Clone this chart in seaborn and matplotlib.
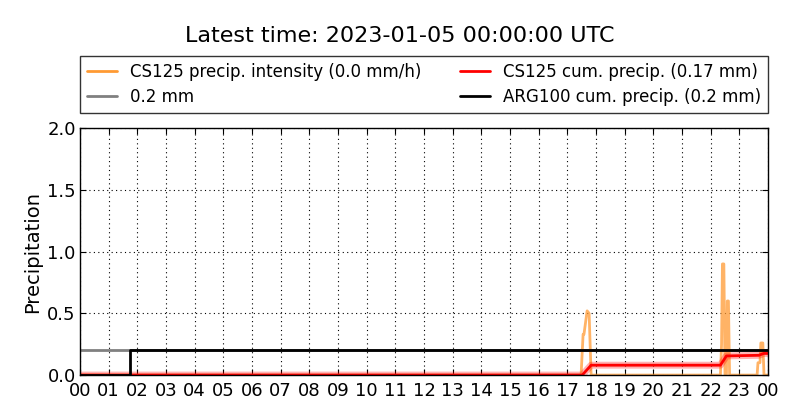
import numpy as np
import pandas as pd
import matplotlib
matplotlib.use("Agg")
import matplotlib.pyplot as plt
import seaborn as sns

# Hours since 00 UTC and values
int_hours = [0, 17.48, 17.55, 17.58, 17.69, 17.76, 17.83, 22.34, 22.38, 22.41, 22.46,
             22.50, 22.55, 22.58, 22.62, 22.66, 23.62, 23.65, 23.72, 23.75, 23.82, 23.86, 24]
int_values = [0, 0, 0.33, 0.33, 0.52, 0.50, 0, 0, 0.25, 0.90, 0.90,
              0, 0, 0.60, 0.60, 0, 0, 0.10, 0.10, 0.26, 0.26, 0, 0]

cum_hours = [0, 17.52, 17.83, 22.34, 22.55, 23.68, 23.85, 24]
cum_values = [0, 0, 0.08, 0.08, 0.155, 0.16, 0.175, 0.175]

arg_hours = [0, 1.75, 1.75, 24]
arg_values = [0, 0, 0.2, 0.2]

ref_hours = [0, 24]
ref_values = [0.2, 0.2]

tick_labels = ["%02d" % h for h in range(24)] + ["00"]

sns.set_style("ticks", {"axes.grid": True, "grid.color": "black", "grid.linestyle": ":",
                        "xtick.direction": "in", "ytick.direction": "in",
                        "axes.edgecolor": "black", "text.color": "black",
                        "axes.labelcolor": "black", "xtick.color": "black",
                        "ytick.color": "black"})
plt.rcParams['font.family'] = ['DejaVu Sans']

fig, ax = plt.subplots(figsize=(8, 4.2), dpi=100)
fig.subplots_adjust(left=0.1, right=0.96, top=0.695, bottom=0.107)

df_int = pd.DataFrame({"h": int_hours, "v": int_values})
df_cum = pd.DataFrame({"h": cum_hours, "v": cum_values})
df_arg = pd.DataFrame({"h": arg_hours, "v": arg_values})
df_ref = pd.DataFrame({"h": ref_hours, "v": ref_values})

sns.lineplot(data=df_ref, x="h", y="v", ax=ax, color="gray", lw=2,
             estimator=None, sort=False, label="0.2 mm")
sns.lineplot(data=df_int, x="h", y="v", ax=ax, color="#ff9a33", alpha=0.75, lw=2,
             estimator=None, sort=False, label="CS125 precip. intensity (0.0 mm/h)")
sns.lineplot(data=df_cum, x="h", y="v", ax=ax, color="red", alpha=0.3, lw=5,
             estimator=None, sort=False, legend=False)
sns.lineplot(data=df_cum, x="h", y="v", ax=ax, color="red", lw=2,
             estimator=None, sort=False, label="CS125 cum. precip. (0.17 mm)")
sns.lineplot(data=df_arg, x="h", y="v", ax=ax, color="black", lw=2,
             estimator=None, sort=False, label="ARG100 cum. precip. (0.2 mm)")

ax.set_xlim(0, 24)
ax.set_ylim(0, 2.0)
ax.set_xticks(range(25))
ax.set_xticklabels(tick_labels)
ax.set_yticks(np.arange(0, 2.01, 0.5))
ax.tick_params(axis="both", labelsize=13, length=4, top=True, right=True, pad=3, colors="black")
ax.tick_params(axis="x", pad=5)
ax.set_xlabel("")
ax.set_ylabel("Precipitation", fontsize=14, color="black")
ax.grid(True, color="black", linestyle=(0, (1, 3)), linewidth=0.8)
for s in ax.spines.values():
    s.set_linewidth(1)
    s.set_color("black")

handles, labels = ax.get_legend_handles_labels()
order = [labels.index(l) for l in ["CS125 precip. intensity (0.0 mm/h)", "0.2 mm",
                                    "CS125 cum. precip. (0.17 mm)", "ARG100 cum. precip. (0.2 mm)"]]
leg = ax.legend([handles[i] for i in order], [labels[i] for i in order],
                ncol=2, loc="lower left", bbox_to_anchor=(0, 1.062, 1, 0.2), mode="expand",
                fontsize=12, frameon=True, fancybox=False, edgecolor="black",
                borderaxespad=0, handlelength=1.8, labelspacing=0.45)
leg.get_frame().set_linewidth(1)
for lh in leg.get_lines():
    lh.set_alpha(1)
    lh.set_linewidth(2)
for t in leg.get_texts():
    t.set_color("black")

fig.text(0.5, 0.915, "Latest time: 2023-01-05 00:00:00 UTC", ha="center", va="center",
         fontsize=16, color="black")

fig.savefig("out.png", dpi=100)
